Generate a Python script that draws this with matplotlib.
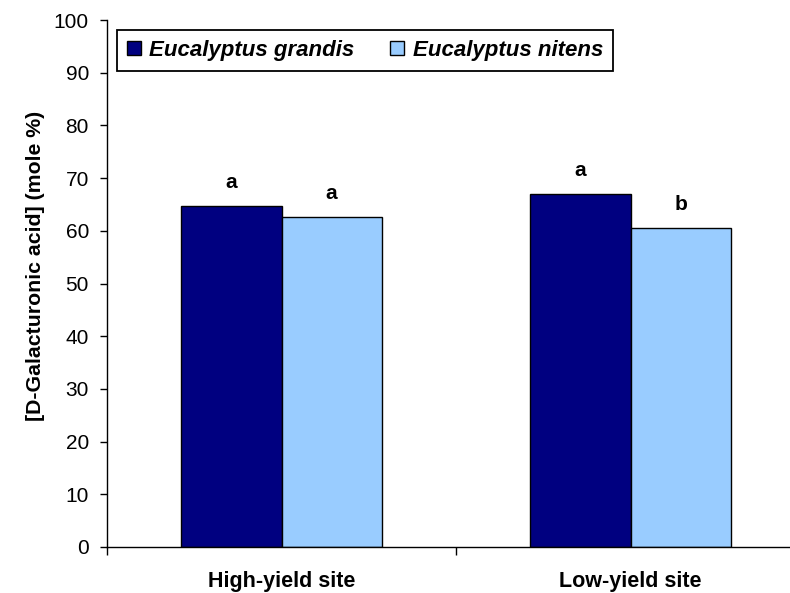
import numpy as np
import matplotlib.pyplot as plt
from matplotlib.patches import Patch

plt.rcParams['font.family'] = ['Liberation Sans', 'DejaVu Sans']

sites = ['High-yield site', 'Low-yield site']
grandis = [64.8, 67.0]
nitens = [62.6, 60.5]
grandis_letters = ['a', 'a']
nitens_letters = ['a', 'b']

c_grandis = '#000080'
c_nitens = '#99ccff'

fig = plt.figure(figsize=(7.9, 5.93), dpi=100)
ax = fig.add_axes([107/790, 46/593, 698/790, 527/593])

x = np.arange(len(sites))
w = 0.287
ax.bar(x - w/2, grandis, w, color=c_grandis, edgecolor='black', linewidth=1)
ax.bar(x + w/2, nitens, w, color=c_nitens, edgecolor='black', linewidth=1)

for i in range(len(sites)):
    ax.text(x[i] - w/2, grandis[i] + 3.4, grandis_letters[i], ha='center', va='baseline',
            fontsize=15, fontweight='bold')
    ax.text(x[i] + w/2, nitens[i] + 3.4, nitens_letters[i], ha='center', va='baseline',
            fontsize=15, fontweight='bold')

ax.set_xlim(-0.5, 1.5)
ax.set_ylim(0, 100)
ax.set_yticks(range(0, 101, 10))
ax.tick_params(axis='y', labelsize=15, direction='out', length=5, width=1, pad=8)

ax.set_xticks(x)
ax.set_xticklabels(sites, fontsize=15.5, fontweight='bold')
ax.tick_params(axis='x', which='major', length=0, pad=17)
ax.set_xticks([-0.5, 0.5, 1.5], minor=True)
ax.tick_params(axis='x', which='minor', length=6, width=1, direction='out')

ax.spines['top'].set_visible(False)
ax.spines['right'].set_visible(False)
ax.spines['left'].set_linewidth(1)
ax.spines['bottom'].set_linewidth(1)

ax.set_ylabel('[D-Galacturonic acid] (mole %)', fontsize=15.3, fontweight='bold')
ax.yaxis.set_label_coords(-0.089, 0.533)

handles = [Patch(facecolor=c_grandis, edgecolor='black', label='Eucalyptus grandis'),
           Patch(facecolor=c_nitens, edgecolor='black', label='Eucalyptus nitens')]
leg = fig.legend(handles=handles, loc='upper left', bbox_to_anchor=(117/790, 1 - 30/593),
                 ncol=2, fancybox=False, edgecolor='black', framealpha=1,
                 prop={'size': 16, 'weight': 'bold', 'style': 'italic'},
                 handlelength=0.63, handleheight=0.63, handletextpad=0.38,
                 columnspacing=1.6, borderpad=0.45, borderaxespad=0)
leg.get_frame().set_linewidth(1.3)

fig.savefig('out.png', dpi=100)
